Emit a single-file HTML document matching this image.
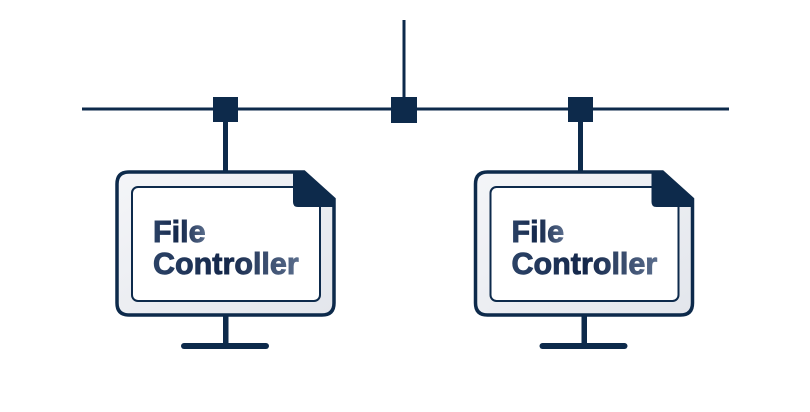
<!DOCTYPE html>
<html><head><meta charset="utf-8"><style>
html,body{margin:0;padding:0;background:#fff;width:810px;height:412px;overflow:hidden}
svg{display:block}
text{font-family:"Liberation Sans",sans-serif;font-weight:bold;font-size:30.5px;stroke-width:0.9px}
</style></head><body>
<svg width="810" height="412" viewBox="0 0 810 412" xmlns="http://www.w3.org/2000/svg">
<defs>
<linearGradient id="g" x1="0" y1="0" x2="1" y2="1">
<stop offset="0" stop-color="#f4f5f8"/><stop offset="1" stop-color="#e3e6ec"/>
</linearGradient>
<linearGradient id="t" x1="0" y1="0" x2="1" y2="0">
<stop offset="0" stop-color="#2b4266"/><stop offset="0.5" stop-color="#14274a"/><stop offset="1" stop-color="#5a6d8c"/>
</linearGradient>
<g id="mon">
<path d="M129,172 L304,172 L334,199 L334,303 Q334,315 322,315 L129,315 Q117,315 117,303 L117,184 Q117,172 129,172 Z" fill="url(#g)" stroke="#0d2a4b" stroke-width="3.5"/>
<rect x="132" y="187" width="188" height="114" rx="6" fill="#fff" stroke="#0d2a4b" stroke-width="2"/>
<path d="M293,172 L304,172 L334,199 L334,207 L298,207 Q293,207 293,202 Z" fill="#0d2a4b"/>
<rect x="223" y="315" width="5.5" height="30" fill="#0d2a4b"/>
<rect x="181" y="343" width="88" height="6" rx="3" fill="#0d2a4b"/>
<text x="153" y="242" fill="url(#t)" stroke="url(#t)">File</text>
<text x="153" y="274" fill="url(#t)" stroke="url(#t)">Controller</text>
</g>
</defs>
<rect x="82" y="107.5" width="647" height="3" fill="#0d2a4b"/>
<rect x="402.5" y="20" width="3" height="80" fill="#0d2a4b"/>
<rect x="213" y="97" width="25" height="25" fill="#0d2a4b"/>
<rect x="391" y="97" width="26" height="26" fill="#0d2a4b"/>
<rect x="568" y="97" width="25" height="25" fill="#0d2a4b"/>
<rect x="223" y="120" width="5" height="52" fill="#0d2a4b"/>
<rect x="578" y="120" width="5" height="52" fill="#0d2a4b"/>
<use href="#mon"/>
<use href="#mon" transform="translate(358.5,0)"/>
</svg>
</body></html>
